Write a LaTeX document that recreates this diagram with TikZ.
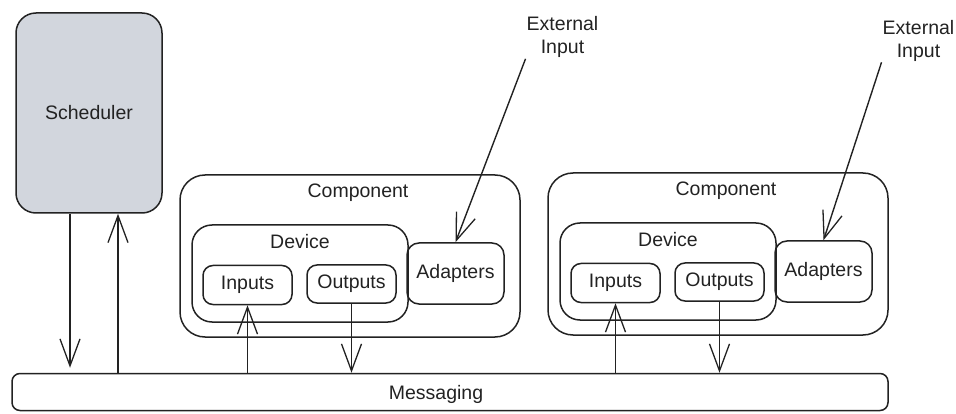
\documentclass[tikz,border=0pt]{standalone}
\usepackage{fontspec}
\setmainfont{Liberation Sans}
\usetikzlibrary{arrows.meta}
\definecolor{inkgray}{HTML}{222222}
\definecolor{schedfill}{HTML}{D2D6DD}
\tikzset{
  sketchbox/.style={draw=inkgray, line width=1.5pt, rounded corners=#1, inner sep=0pt},
  sketchbox/.default=12pt,
  flow/.style={draw=inkgray, line width=1.4pt, -{Straight Barb[length=27pt,width=20pt,line width=1.3pt]}},
}

\begin{document}
\begin{tikzpicture}[x=1pt, y=-1pt, text=inkgray, node font=\fontsize{19.5}{23}\selectfont]
  \useasboundingbox (0,0) rectangle (956,414);

  % scheduler and the message bus
  \node[sketchbox=20pt, fill=schedfill, minimum width=146pt, minimum height=200pt] (sched) at (89,113) {Scheduler};
  \node[sketchbox=8pt, minimum width=876pt, minimum height=37pt] (msg) at (450,392) {};
  \node (msgtxt) at (436,394) {Messaging};

  \draw[flow, shorten >=5pt] ([xshift=-19pt]sched.south) -- ([xshift=-19pt]sched.south |- msg.north);
  \draw[flow] ([xshift=29pt]sched.south |- msg.north) -- ([xshift=29pt]sched.south);

  % the two components
  \foreach \i/\dx/\dy/\ex in {1/0/0/562.5, 2/368/-2/918.5} {
    \begin{scope}[shift={(\dx,\dy)}]
      \node[sketchbox=25pt, minimum width=340pt, minimum height=162pt] (comp\i) at (350,256) {};
      \node (comptxt\i) at (358,193) {Component};
      \node[sketchbox=20pt, minimum width=216pt, minimum height=97pt] (dev\i) at (300,273.5) {};
      \node (devtxt\i) at (300,242) {Device};
      \node[sketchbox=10pt, minimum width=89pt, minimum height=39pt] (in\i) at (247.5,285) {Inputs};
      \node[sketchbox=10pt, minimum width=89pt, minimum height=38pt] (out\i) at (351.5,284) {Outputs};
      \node[sketchbox=12pt, minimum width=97pt, minimum height=61pt] (adp\i) at (455.5,273.5) {Adapters};
    \end{scope}
    \node[align=center, inner sep=1pt] (ext\i) at (\ex,37+3.5*\i-3.5) {External\\Input};

    \draw[flow] (in\i.south |- msg.north) -- (in\i.south);
    \draw[flow] (out\i.south) -- (out\i.south |- msg.north);
    \draw[flow] (ext\i.south west) -- (adp\i.north);
  }
\end{tikzpicture}
\end{document}
